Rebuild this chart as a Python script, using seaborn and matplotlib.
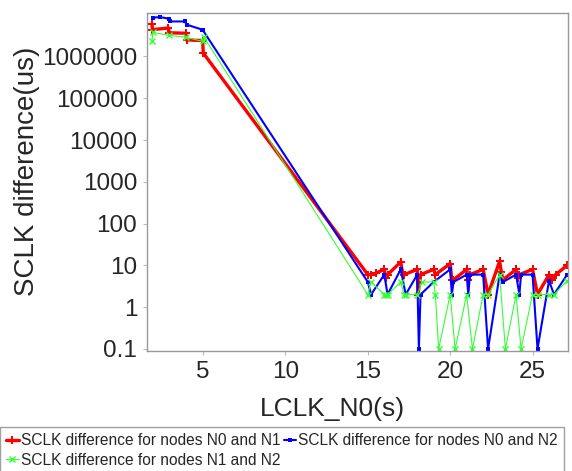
import numpy as np
import pandas as pd
import seaborn as sns
import matplotlib.pyplot as plt
from matplotlib.ticker import FixedLocator, FuncFormatter, LogLocator, NullFormatter

# series (LCLK_N0 in s, SCLK difference in us)
x_n0n1 = [1.9, 1.93, 2.9, 2.95, 3.95, 4.0, 4.97, 5.02,
          15.0, 15.2, 15.5, 16.0, 16.1, 16.2, 17.0, 17.1, 17.2, 18.0, 18.05, 18.2,
          19.0, 19.1, 20.0, 20.1, 20.2, 21.0, 21.1, 21.2, 22.0, 22.3, 23.0, 23.1,
          23.2, 24.0, 24.1, 24.2, 25.0, 25.3, 26.0, 26.2, 26.4, 27.1]
y_n0n1 = [6.0e6, 4.4e6, 4.8e6, 3.7e6, 3.6e6, 2.5e6, 2.4e6, 1.2e6,
          6, 6, 6.5, 8, 5, 6, 12, 7, 6, 8, 2, 6,
          8, 6, 11, 4.5, 4.5, 8, 4.5, 6, 8, 2, 12.6, 7,
          4.5, 8, 5, 6, 8, 2, 6, 4.5, 6, 10]

x_n0n2 = [1.95, 2.4, 2.95, 3.0, 3.9, 4.0, 4.95, 5.0,
          15.0, 15.2, 16.0, 16.2, 17.0, 17.3, 18.0, 18.1, 18.2, 19.0, 20.0, 20.1,
          20.2, 21.0, 21.1, 21.2, 22.0, 22.3, 23.0, 23.2, 24.0, 24.2, 24.3, 25.0,
          25.3, 26.0, 26.3, 27.1]
y_n0n2 = [8.5e6, 8.8e6, 8.0e6, 6.9e6, 6.9e6, 5.8e6, 4.4e6, 4.2e6,
          4, 2, 6, 2, 8, 2, 6, 0.1, 2, 4, 8, 2,
          4, 6, 2, 6, 6, 0.1, 6, 4, 6, 2, 6, 6,
          0.1, 4.3, 2, 6]

x_n1n2 = [1.9, 1.95, 2.95, 3.95, 4.97, 5.03,
          15.0, 15.2, 16.0, 16.1, 16.2, 17.0, 17.2, 17.3, 18.0, 18.3, 19.0, 19.1,
          19.3, 20.0, 20.3, 21.0, 21.35, 22.0, 22.3, 23.0, 23.35, 24.0, 24.3, 25.0,
          25.3, 26.0, 26.3, 27.1]
y_n1n2 = [2.3e6, 3.8e6, 3.2e6, 2.9e6, 2.3e6, 3.0e6,
          2, 4, 2, 2, 2, 4, 2, 2, 2, 4, 4, 2,
          0.1, 2, 0.1, 2, 0.1, 2, 2, 6, 0.1, 2, 0.1, 2,
          2, 2, 2, 4.3]

labels = ["SCLK difference for nodes N0 and N1",
          "SCLK difference for nodes N0 and N2",
          "SCLK difference for nodes N1 and N2"]
y_ticks = [0.1, 1, 10, 100, 1000, 10000, 100000, 1000000]


def main():
    sns.set_style("white")
    plt.rcParams['font.family'] = ['Liberation Sans', 'DejaVu Sans']

    fig = plt.figure(figsize=(5.72, 4.71), dpi=100)
    ax = fig.add_axes([0.257, 0.2548, 0.736, 0.7176])

    sns.lineplot(x=x_n0n1, y=y_n0n1, ax=ax, sort=False, estimator=None,
                 color="#ff0000", lw=2.4, marker="P", markersize=6,
                 markeredgewidth=0, markeredgecolor="#ff0000", label=labels[0])
    sns.lineplot(x=x_n0n2, y=y_n0n2, ax=ax, sort=False, estimator=None,
                 color="#0000ff", lw=1.5, marker="s", markersize=3,
                 markeredgewidth=0, markeredgecolor="#0000ff", label=labels[1])
    sns.lineplot(x=x_n1n2, y=y_n1n2, ax=ax, sort=False, estimator=None,
                 color="#33ff33", lw=0.8, marker="x", markersize=5,
                 markeredgewidth=1.0, markeredgecolor="#33ff33", label=labels[2])

    ax.set_yscale("log")
    ax.set_ylim(0.089, 1.1e7)
    ax.set_xlim(1.6, 27.15)
    ax.yaxis.set_major_locator(FixedLocator(y_ticks))
    ax.yaxis.set_major_formatter(FuncFormatter(lambda v, p: f"{v:g}" if v < 1 else f"{int(round(v))}"))
    ax.yaxis.set_minor_locator(LogLocator(base=10, subs=np.arange(2, 10)))
    ax.yaxis.set_minor_formatter(NullFormatter())
    ax.set_xticks([5, 10, 15, 20, 25])

    ax.tick_params(axis="both", which="major", labelsize=17.5, length=3,
                   color="#bbbbbb", direction="out", pad=4, left=True, bottom=True)
    ax.tick_params(axis="y", which="minor", length=2, color="#cccccc", left=True)
    for s in ax.spines.values():
        s.set_color("#999999")
        s.set_linewidth(1.0)

    ax.set_xlabel("LCLK_N0(s)", fontsize=19)
    ax.set_ylabel("SCLK difference(us)", fontsize=20)
    ax.xaxis.set_label_coords(0.44, -0.135)
    ax.yaxis.set_label_coords(-0.255, 0.531)

    handles, labs = ax.get_legend_handles_labels()
    ax.get_legend().remove()
    order = [0, 2, 1]
    leg = fig.legend([handles[i] for i in order], [labs[i] for i in order],
                     loc="upper left", bbox_to_anchor=(0.0, 0.094),
                     ncol=2, fontsize=11.2, frameon=True,
                     fancybox=False, borderaxespad=0, handlelength=0.8,
                     handletextpad=0.15, columnspacing=0.2, labelspacing=0.3,
                     borderpad=0.4)
    leg.get_frame().set_edgecolor("#888888")
    leg.get_frame().set_linewidth(1.0)

    fig.savefig("out.png", dpi=100)


if __name__ == '__main__':
    main()
